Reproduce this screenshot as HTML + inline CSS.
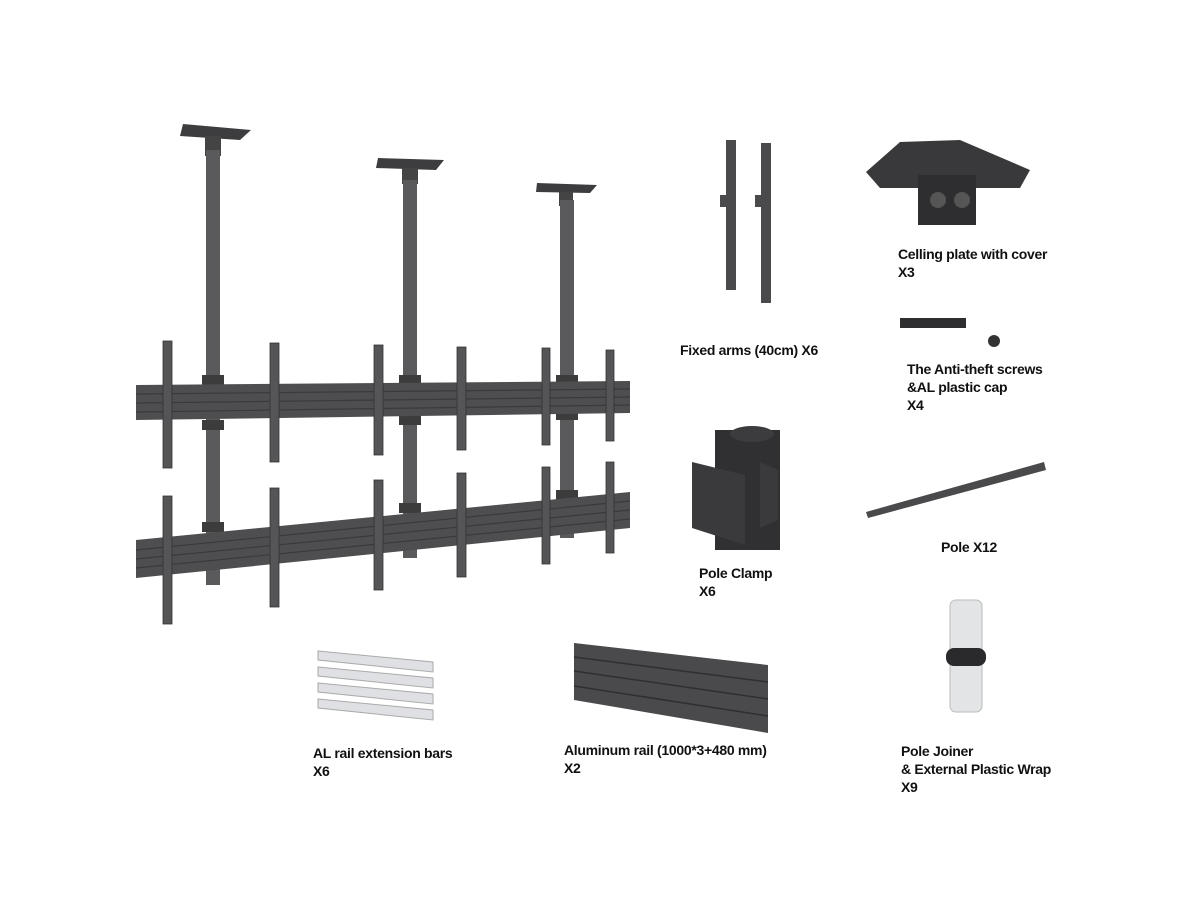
<!DOCTYPE html>
<html><head><meta charset="utf-8"><style>
body{margin:0;background:#fff;width:1200px;height:900px;overflow:hidden;position:relative;font-family:"Liberation Sans",sans-serif}
.t{position:absolute;font-weight:bold;font-size:14px;line-height:18px;color:#111;letter-spacing:-0.3px}
svg{position:absolute;left:0;top:0}
</style></head><body>
<svg width="1200" height="900" viewBox="0 0 1200 900">
<g fill="#5a5a5c">
<!-- ceiling plates -->
<polygon points="183,124 251,130 240,140 180,136" fill="#3d3d3f"/>
<rect x="205" y="136" width="16" height="20" fill="#444"/>
<polygon points="378,158 444,160 436,170 376,168" fill="#3d3d3f"/>
<rect x="402" y="168" width="16" height="16" fill="#444"/>
<polygon points="537,183 597,185 590,193 536,192" fill="#3d3d3f"/>
<rect x="559" y="192" width="14" height="14" fill="#444"/>
<!-- poles -->
<rect x="206" y="150" width="14" height="435"/>
<rect x="403" y="180" width="14" height="378"/>
<rect x="560" y="200" width="14" height="338"/>
<rect x="202" y="375" width="22" height="10" fill="#3c3c3c"/>
<rect x="202" y="420" width="22" height="10" fill="#3c3c3c"/>
<rect x="202" y="522" width="22" height="10" fill="#3c3c3c"/>
<rect x="399" y="375" width="22" height="10" fill="#3c3c3c"/>
<rect x="399" y="415" width="22" height="10" fill="#3c3c3c"/>
<rect x="399" y="503" width="22" height="10" fill="#3c3c3c"/>
<rect x="556" y="375" width="22" height="10" fill="#3c3c3c"/>
<rect x="556" y="410" width="22" height="10" fill="#3c3c3c"/>
<rect x="556" y="490" width="22" height="10" fill="#3c3c3c"/>
<!-- rails -->
<polygon points="136,385 630,381 630,413 136,420" fill="#4e4e50"/>
<polygon points="136,540 630,492 630,528 136,578" fill="#4e4e50"/>
<g stroke="#3a3a3c" stroke-width="1.2">
<line x1="136" y1="394" x2="630" y2="389"/><line x1="136" y1="403" x2="630" y2="397"/><line x1="136" y1="412" x2="630" y2="405"/>
<line x1="136" y1="550" x2="630" y2="501"/><line x1="136" y1="559" x2="630" y2="510"/><line x1="136" y1="568" x2="630" y2="519"/>
</g>
<!-- arms -->
<g fill="#555557" stroke="#333" stroke-width="0.8">
<rect x="163" y="341" width="9" height="127"/><rect x="270" y="343" width="9" height="119"/><rect x="374" y="345" width="9" height="110"/><rect x="457" y="347" width="9" height="103"/><rect x="542" y="348" width="8" height="97"/><rect x="606" y="350" width="8" height="91"/>
<rect x="163" y="496" width="9" height="128"/><rect x="270" y="488" width="9" height="119"/><rect x="374" y="480" width="9" height="110"/><rect x="457" y="473" width="9" height="104"/><rect x="542" y="467" width="8" height="97"/><rect x="606" y="462" width="8" height="91"/>
</g>
<!-- fixed arms -->
<rect x="726" y="140" width="10" height="150" fill="#4a4a4c"/>
<rect x="720" y="195" width="6" height="12" fill="#4a4a4c"/>
<rect x="761" y="143" width="10" height="160" fill="#4a4a4c"/>
<rect x="755" y="195" width="6" height="12" fill="#4a4a4c"/>
<!-- ceiling plate -->
<polygon points="866,172 900,142 960,140 1030,170 1020,188 880,188" fill="#39393b"/>
<rect x="918" y="175" width="58" height="50" fill="#2e2e30"/>
<circle cx="938" cy="200" r="8" fill="#555"/><circle cx="962" cy="200" r="8" fill="#555"/>
<!-- screw -->
<rect x="900" y="318" width="66" height="10" fill="#2e2e30"/>
<circle cx="994" cy="341" r="6" fill="#333"/>
<!-- pole clamp -->
<rect x="715" y="430" width="65" height="120" fill="#303032"/>
<ellipse cx="752" cy="434" rx="22" ry="8" fill="#3c3c3e"/>
<polygon points="692,462 745,475 745,545 692,528" fill="#3a3a3c"/>
<polygon points="760,462 778,470 778,520 760,528" fill="#3a3a3c"/>
<!-- pole -->
<polygon points="866,512 1044,462 1046,470 868,518" fill="#4a4a4c"/>
<!-- pole joiner -->
<rect x="950" y="600" width="32" height="112" rx="6" fill="#e3e4e6" stroke="#bbb"/>
<rect x="946" y="648" width="40" height="18" rx="8" fill="#2a2a2c"/>
<!-- ext bars -->
<g fill="#dfe0e3" stroke="#aaa">
<polygon points="318,651 433,662 433,672 318,660"/>
<polygon points="318,667 433,678 433,688 318,676"/>
<polygon points="318,683 433,694 433,704 318,692"/>
<polygon points="318,699 433,710 433,720 318,708"/>
</g>
<!-- aluminum rail -->
<polygon points="574,643 768,665 768,733 574,700" fill="#4a4a4c"/>
<g stroke="#2f2f31" stroke-width="1.5"><line x1="574" y1="657" x2="768" y2="682"/><line x1="574" y1="671" x2="768" y2="699"/><line x1="574" y1="686" x2="768" y2="716"/></g>
</g>
</svg>
<div class="t" style="left:680px;top:341px">Fixed arms (40cm) X6</div>
<div class="t" style="left:898px;top:245px">Celling plate with cover<br>X3</div>
<div class="t" style="left:907px;top:360px">The Anti-theft screws<br>&amp;AL plastic cap<br>X4</div>
<div class="t" style="left:941px;top:538px">Pole X12</div>
<div class="t" style="left:699px;top:564px">Pole Clamp<br>X6</div>
<div class="t" style="left:313px;top:744px">AL rail extension bars<br>X6</div>
<div class="t" style="left:564px;top:741px">Aluminum rail (1000*3+480 mm)<br>X2</div>
<div class="t" style="left:901px;top:742px">Pole Joiner<br>&amp; External Plastic Wrap<br>X9</div>
</body></html>
